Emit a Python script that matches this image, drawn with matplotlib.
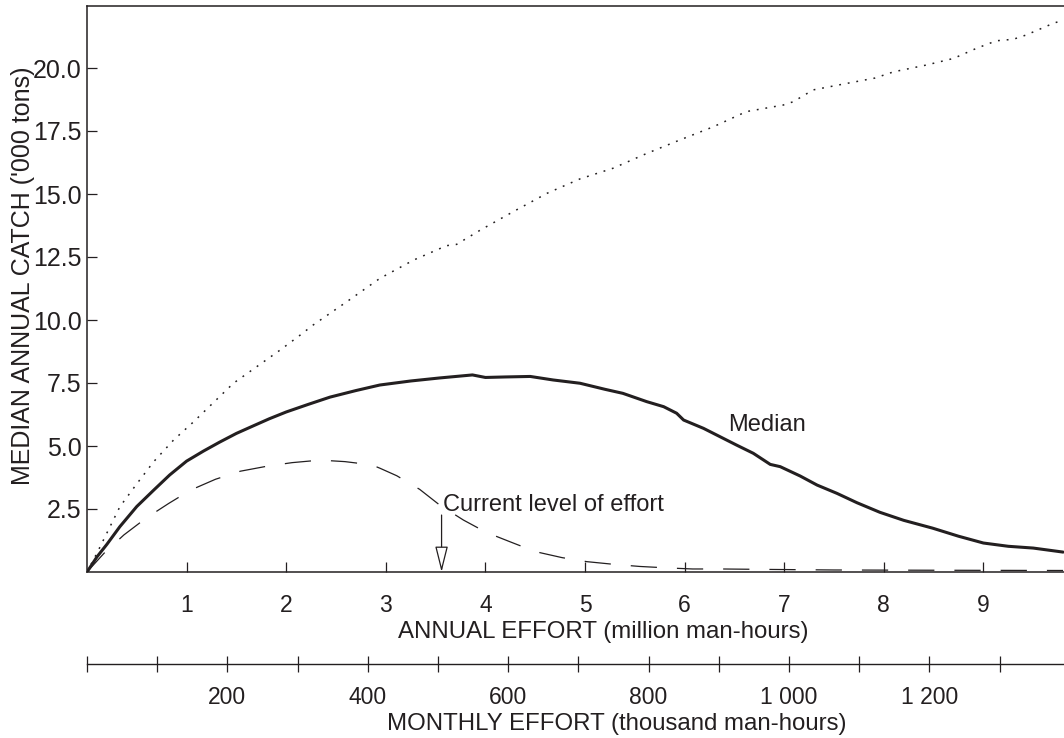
import matplotlib
matplotlib.use("Agg")
import matplotlib.pyplot as plt
import numpy as np

plt.rcParams['font.family'] = ['Liberation Sans', 'DejaVu Sans']
ink = "#231f20"

# Медіана (суцільна лінія)
med_x = [0, 0.1, 0.2, 0.33, 0.5, 0.67, 0.83, 1.0, 1.17, 1.33, 1.5, 1.67, 1.83, 2.0, 2.22, 2.44,
         2.7, 2.94, 3.25, 3.54, 3.87, 4.0, 4.2, 4.45, 4.68,
         4.95, 5.2, 5.38, 5.62, 5.79, 5.92, 5.99, 6.19, 6.32, 6.52, 6.69, 6.86, 6.96, 7.16,
         7.33, 7.53, 7.73, 7.96, 8.2, 8.49, 8.75, 9.0, 9.25, 9.5, 9.8]
med_y = [0, 0.6, 1.1, 1.8, 2.6, 3.25, 3.85, 4.4, 4.8, 5.15, 5.5, 5.8, 6.08, 6.35, 6.65, 6.94,
         7.2, 7.42, 7.58, 7.7, 7.82, 7.72, 7.74, 7.76, 7.62,
         7.49, 7.25, 7.09, 6.76, 6.56, 6.30, 6.03, 5.70, 5.44, 5.04, 4.71, 4.27, 4.18, 3.81,
         3.45, 3.12, 2.75, 2.37, 2.05, 1.74, 1.42, 1.15, 1.02, 0.95, 0.79]

# Нижня крива (штрихова)
low_x = [0, 0.17, 0.37, 0.59, 0.82, 1.04, 1.29, 1.54, 1.81, 2.06, 2.34, 2.59, 2.86, 2.94, 3.11,
         3.34, 3.54, 3.78, 4.01, 4.26, 4.5, 4.77, 5.02, 5.3, 5.55, 5.84, 6.08, 6.37, 6.62,
         6.91, 7.5, 8.5, 9.8]
low_y = [0, 0.74, 1.47, 2.13, 2.72, 3.25, 3.68, 4.0, 4.2, 4.34, 4.44, 4.38, 4.25, 4.12, 3.82,
         3.28, 2.66, 2.06, 1.57, 1.18, 0.81, 0.57, 0.41, 0.3, 0.22, 0.16, 0.12, 0.12, 0.11,
         0.1, 0.08, 0.07, 0.06]

# Верхня крива (пунктир)
up_x = [0, 0.1, 0.33, 0.5, 0.67, 0.87, 1.07, 1.47, 1.94, 2.14, 2.27, 2.61, 2.94, 3.28, 3.61, 3.71,
        3.95, 4.28, 4.62, 4.95, 5.28, 5.62, 5.95, 6.29, 6.62, 6.99, 7.09, 7.29, 7.63, 7.91,
        8.1, 8.43, 8.7, 8.93, 9.13, 9.3, 9.43, 9.6, 9.7, 9.8]
up_y = [0, 0.75, 2.59, 3.5, 4.38, 5.24, 5.96, 7.49, 8.81, 9.4, 9.8, 10.73, 11.65, 12.38, 12.95, 13.0,
        13.57, 14.3, 15.03, 15.6, 16.02, 16.61, 17.14, 17.67, 18.27, 18.53, 18.66, 19.13, 19.39, 19.6,
        19.85, 20.12, 20.38, 20.78, 21.08, 21.14, 21.31, 21.6, 21.77, 21.9]

annual_ticks = [1, 2, 3, 4, 5, 6, 7, 8, 9]
catch_ticks = [2.5, 5.0, 7.5, 10.0, 12.5, 15.0, 17.5, 20.0]
monthly_major = [200, 400, 600, 800, 1000, 1200]
monthly_labels = ["200", "400", "600", "800", "1 000", "1 200"]
monthly_minor = [0, 100, 300, 500, 700, 900, 1100, 1300]

current_effort = 3.56

fig = plt.figure(figsize=(10.64, 7.38), dpi=100)
left, width = 87 / 1064, 977 / 1064
ax = fig.add_axes([left, 1 - 572 / 738, width, 566 / 738])

ax.plot(up_x, up_y, color=ink, lw=1.1, ls=(0, (1.2, 4.5)))
ax.plot(low_x, low_y, color=ink, lw=0.9, ls=(0, (21, 16)))
ax.plot(med_x, med_y, color=ink, lw=2.2, solid_capstyle='round', solid_joinstyle='round')

ax.set_xlim(0, 977 / 99.6)
ax.set_ylim(0, 566 / 25.2)
ax.set_xticks(annual_ticks)
ax.set_yticks(catch_ticks)
ax.set_yticklabels([f"{v:.1f}" for v in catch_ticks])
ax.tick_params(direction='in', length=7, width=0.9, colors=ink)
ax.tick_params(axis='x', pad=16, labelsize=16.5)
ax.tick_params(axis='y', pad=4, labelsize=18)
ax.spines['right'].set_visible(False)
for s in ['left', 'bottom', 'top']:
    ax.spines[s].set_color(ink)
    ax.spines[s].set_linewidth(1.1)

ax.set_xlabel("ANNUAL EFFORT (million man-hours)", fontsize=17.3, color=ink)
ax.xaxis.set_label_coords(0.528, -0.087)
ax.set_ylabel("MEDIAN ANNUAL CATCH ('000 tons)", fontsize=18, color=ink)
ax.yaxis.set_label_coords(-0.0535, 0.523)

ax.text(6.44, 5.83, "Median", fontsize=17, color=ink, va='center', ha='left')
ax.text(3.57, 2.66, "Current level of effort", fontsize=17, color=ink, va='center', ha='left')
ax.annotate("", xy=(current_effort, 0), xytext=(current_effort, 2.26),
            arrowprops=dict(arrowstyle='-|>,head_length=16,head_width=4', mutation_scale=1,
                            fc='white', ec=ink, lw=0.9, shrinkA=0, shrinkB=0))

# Друга шкала: місячні зусилля
ax2 = fig.add_axes([left, 1 - 664 / 738, width, 0.01])
ax2.patch.set_visible(False)
for s in ['left', 'right', 'top']:
    ax2.spines[s].set_visible(False)
ax2.spines['bottom'].set_color(ink)
ax2.spines['bottom'].set_linewidth(1.0)
ax2.set_xlim(0, 977 / 70.2 * 100)
ax2.set_yticks([])
ax2.set_xticks(monthly_major)
ax2.set_xticklabels(monthly_labels)
ax2.set_xticks(monthly_minor, minor=True)
ax2.tick_params(axis='x', which='both', direction='inout', length=12, width=0.9, colors=ink)
ax2.tick_params(axis='x', which='major', labelsize=16.5, pad=10)
ax2.set_xlabel("MONTHLY EFFORT (thousand man-hours)", fontsize=17.3, color=ink)
ax2.xaxis.set_label_coords(0.542, -6.7)

fig.savefig("out.png", dpi=100)
